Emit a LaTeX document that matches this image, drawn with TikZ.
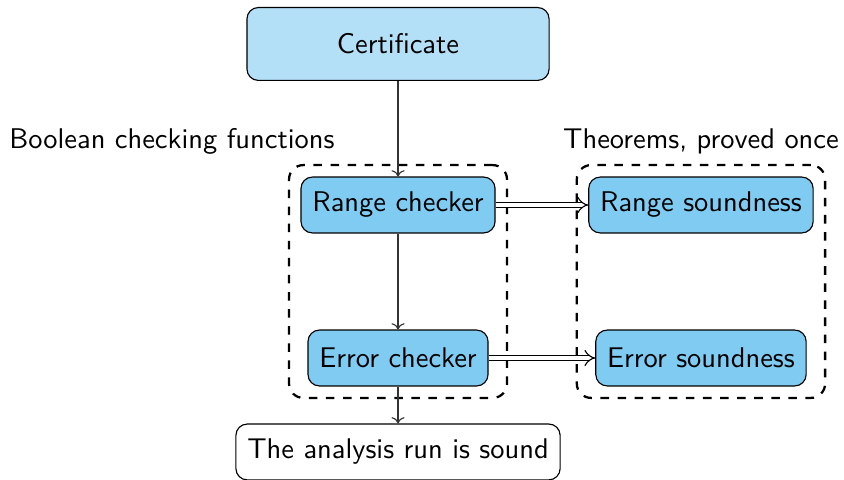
\documentclass[tikz,border=0pt]{standalone}
\usepackage{tikz}
\usepackage{xcolor}
\usetikzlibrary{arrows.meta,positioning,fit,calc}
\definecolor{certblue}{RGB}{180,224,247}
\definecolor{checkblue}{RGB}{128,203,242}

\begin{document}
\begin{tikzpicture}[
    font=\sffamily,
    box/.style={draw, rounded corners=4pt, inner xsep=4pt, minimum height=0.69cm},
    flow/.style={-{To[length=2.2pt]}, draw=black!80},
    implies/.style={double, double distance=1.6pt, -{Implies}},
    group/.style={draw, dashed, thick, rounded corners=5pt, inner sep=4pt}
]
    \useasboundingbox (0,0) rectangle (10.42,5.926);

    % Certificate on top
    \node[box, fill=certblue, minimum width=3.73cm, minimum height=0.9cm] (cert) at (4.914,5.383) {Certificate};

    % Checkers
    \node[box, fill=checkblue] (rangechk) at (4.914,3.395) {Range checker};
    \node[box, fill=checkblue] (errchk) at (4.914,1.506) {Error checker};

    % Soundness theorems
    \node[box, fill=checkblue] (rangesnd) at (8.654,3.395) {Range soundness};
    \node[box, fill=checkblue] (errsnd) at (8.654,1.506) {Error soundness};

    % Result
    \node[box, fill=white] (result) at (4.914,0.346) {The analysis run is sound};

    % Groups
    \node[group, fit=(rangechk) (errchk)] (chkgroup) {};
    \node[group, fit=(rangesnd) (errsnd)] (sndgroup) {};
    \node (chklabel) at (2.123,4.185) {Boolean checking functions};
    \node[above=0pt of sndgroup] (sndlabel) {Theorems, proved once};

    % Connections
    \draw[flow] (cert) -- (rangechk);
    \draw[flow] (rangechk) -- (errchk);
    \draw[flow] (errchk) -- (result);
    \draw[implies] (rangechk) -- (rangesnd);
    \draw[implies] (errchk) -- (errsnd);

\end{tikzpicture}
\end{document}
